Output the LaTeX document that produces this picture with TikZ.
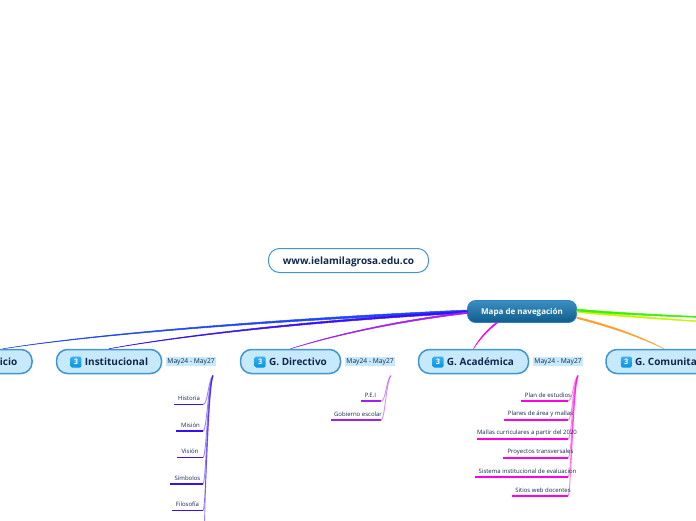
\documentclass[tikz,border=0pt]{standalone}
\usepackage{fontspec}
\setmainfont{Open Sans}
\usetikzlibrary{arrows.meta,calc,positioning}
\definecolor{MapInk}{HTML}{14264D}
\definecolor{MapEdge}{HTML}{3F96D1}
\definecolor{MapFill}{HTML}{C6E9FC}
\definecolor{MapTop}{HTML}{3A8FC0}
\definecolor{MapBottom}{HTML}{0F5C8C}
\definecolor{MapBorder}{HTML}{2A7FD8}
\definecolor{BranchInicio}{HTML}{1F45F5}
\definecolor{BranchInst}{HTML}{3A10F0}
\definecolor{BranchDir}{HTML}{A020F0}
\definecolor{BranchAcad}{HTML}{FF00E0}
\definecolor{BranchCom}{HTML}{FFA02E}
\definecolor{BranchGreen}{HTML}{38F000}
\definecolor{BranchYellow}{HTML}{C8F500}
\tikzset{
  every node/.style={font=\small,text=MapInk},
  topicbox/.style={draw=MapEdge,line width=1.5pt,fill=MapFill,rounded corners=11pt,minimum height=24pt,inner sep=0pt},
  topictext/.style={font=\bfseries\fontsize{10}{12}\selectfont,inner sep=0pt},
  badge/.style={top color=#1!75!white,bottom color=#1,rounded corners=1.5pt,minimum size=11pt,inner sep=0pt,text=white,font=\bfseries\fontsize{7.5}{8}\selectfont},
  badge/.default=blue!35!cyan!90!black,
  datetag/.style={fill=MapFill,inner sep=1pt,font=\fontsize{6.7}{8}\selectfont},
  subtext/.style={inner sep=0pt,font=\fontsize{6}{7}\selectfont},
  taper/.style={line width=.5pt},
  subline/.style={line width=1.2pt},
  subcurve/.style={line width=.9pt,opacity=.5},
}
\begin{document}
\begin{tikzpicture}[x=1pt,y=-1pt]
  \useasboundingbox (0,0) rectangle (696,520);
  \clip (0,0) rectangle (696,520);
  % --- site address and root topic ---
  \node[draw=MapEdge,line width=1pt,fill=white,rounded corners=11pt,minimum width=160pt,minimum height=24pt,inner sep=0pt,
    font=\bfseries\fontsize{10}{12}\selectfont] (web) at (348.5,260.5) {\raisebox{-3.8pt}[0pt][0pt]{www.ielamilagrosa.edu.co}};
  \node[draw=MapBorder,line width=.8pt,top color=MapTop,bottom color=MapBottom,rounded corners=8pt,
    minimum width=109pt,minimum height=22pt,inner sep=0pt,text=white,font=\bfseries\fontsize{8}{10}\selectfont] (mapa) at (522,311.5) {\raisebox{-3.3pt}[0pt][0pt]{Mapa de navegación}};
  % --- main topics ---
  \node[topicbox,minimum width=58pt] (inicio) at (3,361.5) {};
  \node[topictext,anchor=east] (inicioT) at (17.5,362) {Inicio};
  \node[topicbox,minimum width=105pt] (institucional) at (109,361.5) {};
  \node[topictext] (institucionalT) at (116.5,362) {Institucional};
  \node[badge,left=3pt of institucionalT] (institucionalB) {3};
  \node[datetag,right=4pt of institucional] (institucionalD) {May24 - May27};
  \node[topicbox,minimum width=100pt] (directivo) at (290.5,361.5) {};
  \node[topictext] (directivoT) at (298,362) {G. Directivo};
  \node[badge,left=3pt of directivoT] (directivoB) {3};
  \node[datetag,right=4pt of directivo] (directivoD) {May24 - May27};
  \node[topicbox,minimum width=110pt] (academica) at (473.5,361.5) {};
  \node[topictext] (academicaT) at (480.5,362) {G. Académica};
  \node[badge,left=3pt of academicaT] (academicaB) {3};
  \node[datetag,right=4pt of academica] (academicaD) {May24 - May27};
  \node[topicbox,minimum width=116pt] (comunitaria) at (664,361.5) {};
  \node[topictext,anchor=west] (comunitariaT) at (635,362) {G. Comunitaria};
  \node[badge,left=3pt of comunitariaT] (comunitariaB) {3};
  % --- branches out of the root ---
  \coordinate (salidaVerde) at (780,320);
  \coordinate (salidaAmarilla) at (780,327);
  \draw[taper,BranchInicio,fill=BranchInicio] ([yshift=1.5pt]mapa.west) .. controls (330,316) and (120,330) .. (inicio.north) .. controls (120,331) and (330,318) .. ([yshift=-1pt]mapa.west) -- cycle;
  \draw[taper,BranchInst,fill=BranchInst] ([yshift=.4pt]mapa.west) .. controls (340,318) and (200,332) .. (institucional.north) .. controls (200,333) and (340,320) .. ([yshift=-1.6pt]mapa.west) -- cycle;
  \draw[taper,BranchDir,fill=BranchDir] ([yshift=-.5pt]mapa.west) .. controls (400,320) and (340,333) .. (directivo.north) .. controls (340,334) and (400,321.5) .. ([yshift=-2pt]mapa.west) -- cycle;
  \draw[taper,BranchAcad,fill=BranchAcad] ([xshift=-26pt]mapa.south) .. controls (490,327) and (480,337) .. (academica.north) .. controls (481,337) and (491,328) .. ([xshift=-24.5pt]mapa.south) -- cycle;
  \draw[taper,BranchCom,fill=BranchCom] ([yshift=-5.5pt]mapa.east) .. controls (610,325) and (640,336) .. (comunitaria.north) .. controls (640,337) and (610,327) .. ([yshift=-7pt]mapa.east) -- cycle;
  \draw[taper,BranchYellow,fill=BranchYellow] ([yshift=.8pt]mapa.east) .. controls (620,315.5) and (680,319.5) .. (salidaAmarilla) .. controls (680,320.5) and (620,317) .. ([yshift=-.8pt]mapa.east) -- cycle;
  \draw[taper,BranchGreen,fill=BranchGreen] ([yshift=2.4pt]mapa.east) .. controls (620,313) and (680,316) .. (salidaVerde) .. controls (680,317) and (620,315) .. ([yshift=.6pt]mapa.east) -- cycle;
  % --- Institucional: sub-topics ---
  \coordinate (instRaiz) at (213,375.5);
  \coordinate (historiaE) at (203,404.5);
  \coordinate (misionE) at (203,431);
  \coordinate (visionE) at (203,457.5);
  \coordinate (simbolosE) at (203,484);
  \coordinate (filosofiaE) at (203,510.5);
  \coordinate (instFuera) at (204.5,524);
  \draw[subcurve,BranchInst] (instRaiz) .. controls (208,380) and (208,404.5) .. (historiaE);
  \draw[subcurve,BranchInst] (instRaiz) .. controls (208,382) and (207,431) .. (misionE);
  \draw[subcurve,BranchInst] (instRaiz) .. controls (208,384) and (206.5,457.5) .. (visionE);
  \draw[subcurve,BranchInst] (instRaiz) .. controls (208,386) and (206,484) .. (simbolosE);
  \draw[subcurve,BranchInst] (instRaiz) .. controls (208,388) and (206,510.5) .. (filosofiaE);
  \draw[subcurve,BranchInst] (instRaiz) .. controls (208,390) and (205,500) .. (instFuera);
  \draw[subline,BranchInst] (historiaE) -- ++(-29,0);
  \draw[subline,BranchInst] (misionE) -- ++(-27,0);
  \draw[subline,BranchInst] (visionE) -- ++(-26,0);
  \draw[subline,BranchInst] (simbolosE) -- ++(-33,0);
  \draw[subline,BranchInst] (filosofiaE) -- ++(-31,0);
  \node[subtext] (historia) at (189,398) {Historia};
  \node[subtext] (mision) at (190.5,425) {Misión};
  \node[subtext] (vision) at (190,451) {Visión};
  \node[subtext] (simbolos) at (187.5,478) {Símbolos};
  \node[subtext] (filosofia) at (187.5,504) {Filosofía};
  % --- G. Directivo: sub-topics ---
  \coordinate (dirRaiz) at (391,375.5);
  \coordinate (peiE) at (381,401);
  \coordinate (gobiernoE) at (381,420);
  \draw[subcurve,BranchDir] (dirRaiz) .. controls (386,380) and (386,401) .. (peiE);
  \draw[subcurve,BranchDir] (dirRaiz) .. controls (386,382) and (385,420) .. (gobiernoE);
  \draw[subline,BranchDir] (peiE) -- ++(-20,0);
  \draw[subline,BranchDir] (gobiernoE) -- ++(-50,0);
  \node[subtext] (pei) at (370.5,395) {P.E.I};
  \node[subtext] (gobierno) at (358,414) {Gobierno escolar};
  % --- G. Académica: sub-topics ---
  \coordinate (acadRaiz) at (578,375.5);
  \coordinate (planE) at (568,401);
  \coordinate (planesE) at (568,420);
  \coordinate (mallasE) at (568,439);
  \coordinate (proyectosE) at (568,458);
  \coordinate (sistemaE) at (568,477);
  \coordinate (sitiosE) at (568,496);
  \draw[subcurve,BranchAcad] (acadRaiz) .. controls (573,380) and (573,401) .. (planE);
  \draw[subcurve,BranchAcad] (acadRaiz) .. controls (573,382) and (572.5,420) .. (planesE);
  \draw[subcurve,BranchAcad] (acadRaiz) .. controls (573,384) and (572,439) .. (mallasE);
  \draw[subcurve,BranchAcad] (acadRaiz) .. controls (573,386) and (572,458) .. (proyectosE);
  \draw[subcurve,BranchAcad] (acadRaiz) .. controls (573,388) and (571.5,477) .. (sistemaE);
  \draw[subcurve,BranchAcad] (acadRaiz) .. controls (573,390) and (571,496) .. (sitiosE);
  \draw[subline,BranchAcad] (planE) -- ++(-47,0);
  \draw[subline,BranchAcad] (planesE) -- ++(-64,0);
  \draw[subline,BranchAcad] (mallasE) -- ++(-91,0);
  \draw[subline,BranchAcad] (proyectosE) -- ++(-65,0);
  \draw[subline,BranchAcad] (sistemaE) -- ++(-93,0);
  \draw[subline,BranchAcad] (sitiosE) -- ++(-56,0);
  \node[subtext] (plan) at (548,395) {Plan de estudios};
  \node[subtext] (planes) at (540.5,414) {Planes de área y mallas};
  \node[subtext] (mallas) at (527,433) {Mallas curriculares a partir del 2020};
  \node[subtext] (proyectos) at (540.5,452) {Proyectos transversales};
  \node[subtext] (sistema) at (527.5,471) {Sistema institucional de evaluación};
  \node[subtext] (sitios) at (543,490) {Sitios web docentes};
\end{tikzpicture}
\end{document}
